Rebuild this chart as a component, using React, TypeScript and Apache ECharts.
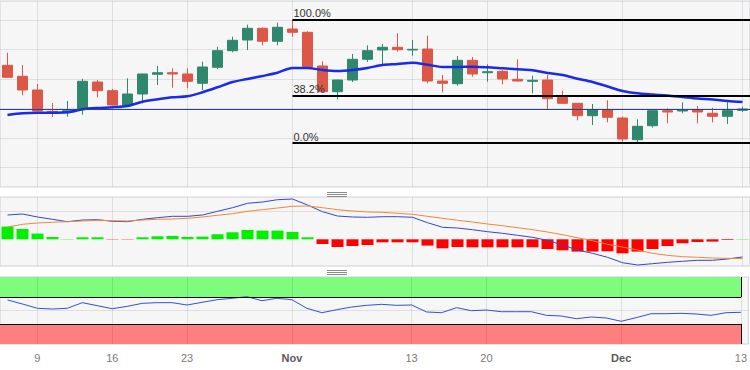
import React, { useEffect, useRef } from "react";
import * as echarts from "echarts";

// ---- Data (trading days) ----
const dates = [
  "2023-10-05","2023-10-06","2023-10-09","2023-10-10","2023-10-11","2023-10-12","2023-10-13",
  "2023-10-16","2023-10-17","2023-10-18","2023-10-19","2023-10-20","2023-10-23","2023-10-24",
  "2023-10-25","2023-10-26","2023-10-27","2023-10-30","2023-10-31","2023-11-01","2023-11-02",
  "2023-11-03","2023-11-06","2023-11-07","2023-11-08","2023-11-09","2023-11-10","2023-11-13",
  "2023-11-14","2023-11-15","2023-11-16","2023-11-17","2023-11-20","2023-11-21","2023-11-22",
  "2023-11-23","2023-11-24","2023-11-27","2023-11-28","2023-11-29","2023-11-30","2023-12-01",
  "2023-12-04","2023-12-05","2023-12-06","2023-12-07","2023-12-08","2023-12-11","2023-12-12",
  "2023-12-13",
];

const open = [121.7,110.7,97,75.7,75.3,77.7,105,96.3,82,93,112.7,114.3,113,103.7,119.7,136.3,147,158.7,145.7,158,154.7,121,95.3,107,127.7,137,139.7,137,138,106,103.3,126.7,114.3,115.7,107.7,105.7,107,89.7,83.7,71.3,77,69,47.3,61.3,76.3,76,77,73.7,70.7,76.7];
const close = [109.7,97,76,74.7,76.3,105.7,96.3,82,93,113,114.3,113,105.7,120,136.3,146.7,158.7,145.7,159.7,154.7,120.3,95.3,107,127.7,136.3,139.7,137.3,137.7,106,103.7,126.7,113,115.3,108,106,106.7,88.3,83.7,71.3,77,69.7,48,60.7,76.3,75,77,75,70.7,76.3,78];
const low = [109.5,91.7,75.5,70,70.3,72.3,89.7,81.5,81,83.7,102,99.3,98.7,97,118,134.7,137,141.7,141.7,150.3,120,95,87.7,105,125,121.7,135.3,131.3,103.7,94.7,101.3,110.3,105.3,102.7,105.5,93.7,77,83.5,66.7,62,64.7,45.5,44.5,59.3,63.7,73.7,63.7,64.7,63,75];
const high = [134.3,122,103,84,86,108.3,107,98,108.7,113.2,121,118.7,118.7,125.3,140.3,150.3,162.3,159.7,164.3,167.5,155.7,125.7,107.3,133,141.7,143,153.7,147,151.3,112,131,130,122.7,117,127.7,111.3,112,96.3,84,83,86.7,70.3,67.7,76.5,78.7,84.7,81,79.3,84.7,80.3];

const movingAverage = [72,73.7,74.3,74.3,74.7,77.7,79,79.7,81,85.3,87.7,89.7,90.7,94.7,99.7,105,108,111,114.3,119,119,117,116,117,119,122,123,124.3,122.3,120,120,120.3,119.7,118.7,117.7,116.7,114,112,108.3,105,100.5,96,93.7,92.5,91.5,90,88.5,87.5,86,85];

const macdLine = [24.3,25.3,22.3,20,17.6,19.3,19.6,18,17.6,20,21.6,23,23,24.3,28,31.6,36,37.3,39.6,40.3,34.3,27.6,23.3,22.3,22,22.6,22.6,22,16.6,12,11.3,9.6,7.6,6,4,2,-1,-5.7,-10.7,-14,-18,-23.4,-25.7,-24.4,-23,-22,-21,-21,-19.7,-17.7];
const signalLine = [12.3,15,16.3,17,17.6,18.3,19,18.6,18.3,19.3,20,20.3,21,22.3,24,25.6,28,29.6,31.3,33,33.3,31.6,29.6,28.3,27.3,27,26,25,23,21,19,17.3,15.3,13.6,11.6,9.6,7.3,4.6,1.6,-1.4,-5,-7.7,-10.7,-14,-16,-17.4,-18,-18.7,-19,-19.4];
const histogram = [12.7,10.3,5.7,2.3,0.3,2,2,-0.3,-0.3,2,3,3.3,2.3,2.7,5,7,9.3,8.7,8.7,7.3,2,-4.7,-7.7,-6.7,-5.7,-3,-3,-3,-6.3,-9,-7.7,-8,-8,-8,-8,-8,-9.7,-11,-12.3,-12.3,-12,-14,-12.3,-9.7,-6.7,-4,-2.7,-2.3,-0.7,0.3];

const rsi = [65.7,59.7,53.3,52.2,53.3,61.7,57.2,52.7,56.2,60.7,61.7,61.7,58.2,62.2,66.1,68.2,70.6,64.6,68.2,66.1,53.3,46.7,51.2,55.2,57.7,59.2,57.7,58.2,47.8,46.7,54.2,49.7,50.7,48.2,48.2,48.2,42.8,41.8,37.8,40.3,38.8,33.9,39.3,45.2,45.2,45.8,44.8,42.8,46.7,47.3];

const tickDates = ["2023-10-09","2023-10-16","2023-10-23","2023-11-01","2023-11-13","2023-11-20","2023-12-01","2023-12-13"];
const tickLabels = ["9","16","23","Nov","13","20","Dec","13"];

const priceGridLevels = [19.5, 49, 78.5, 108, 137.5, 167];
const macdGridLevels = [28.3];
const rsiGridLevels = [50];

const fibStart = "2023-11-01";
const fibHigh = 167.5;
const fibLow = 44;
const fibRatios = [1, 0.382, 0];
const fibLabels = ["100.0%", "38.2%", "0.0%"];

const rsiUpper = 70;
const rsiLower = 30;

// ---- Styles ----
const FONT = "'Liberation Sans', Arial, Helvetica, sans-serif";
const PANEL_BG = "#f6f6f6";
const BORDER = "#cfd0d8";
const GRID_LINE = "rgba(0,0,0,0.09)";
const UP = "#2f876d";
const DOWN = "#dc5746";

export default function App() {
  const ref = useRef<HTMLDivElement>(null);

  useEffect(() => {
    if (!ref.current) return;
    const chart = echarts.init(ref.current, null, { renderer: "svg" });

    const candleData = dates.map((_, i) => [open[i], close[i], low[i], high[i]]);
    const lastDate = dates[dates.length - 1];
    const lastClose = close[close.length - 1];
    const fibRange = fibHigh - fibLow;

    const gridMarkLine = (levels: number[], z: number) => ({
      silent: true,
      symbol: ["none", "none"],
      z,
      label: { show: false },
      emphasis: { disabled: true },
      lineStyle: { color: GRID_LINE, width: 1, type: "solid" },
      data: [
        ...tickDates.map((d) => ({ xAxis: d })),
        ...levels.map((v) => ({ yAxis: v })),
      ],
    });

    const grids = [
      { top: 1, height: 186 },
      { top: 197, height: 69 },
      { top: 277, height: 67 },
    ].map((g) => ({
      ...g,
      left: -1,
      width: 752,
      show: true,
      backgroundColor: PANEL_BG,
      borderColor: BORDER,
      borderWidth: 1,
      containLabel: false,
    }));

    const xAxes = [0, 1, 2].map((k) => ({
      type: "category",
      gridIndex: k,
      data: dates,
      boundaryGap: true,
      axisLine: { show: false },
      axisTick: { show: false },
      splitLine: { show: false },
      axisLabel:
        k === 2
          ? {
              show: true,
              interval: (_i: number, v: string) => tickDates.includes(v),
              formatter: (v: string) => {
                const t = tickLabels[tickDates.indexOf(v)] ?? "";
                return /^[A-Za-z]/.test(t) ? `{m|${t}}` : t;
              },
              color: "#7a7a7a",
              fontSize: 11,
              fontFamily: FONT,
              margin: 8,
              rich: {
                m: { fontWeight: "bold", color: "#5a5a5a", fontSize: 11, fontFamily: FONT },
              },
            }
          : { show: false },
    }));

    const yAxes = [
      { gridIndex: 0, min: 0, max: 186 },
      { gridIndex: 1, min: -26.7, max: 42.3 },
      { gridIndex: 2, min: 0, max: 100 },
    ].map((a) => ({
      type: "value",
      ...a,
      axisLine: { show: false },
      axisTick: { show: false },
      axisLabel: { show: false },
      splitLine: { show: false },
    }));

    const fibItems = fibRatios.map((r, k) => {
      const level = fibLow + r * fibRange;
      return [
        {
          xAxis: fibStart,
          yAxis: level,
          lineStyle: { color: "#000", width: 2, type: "solid" },
          label: {
            show: true,
            position: "insideStartTop",
            formatter: fibLabels[k],
            color: "#333",
            fontSize: 11,
            fontFamily: FONT,
            distance: [1, 1],
          },
        },
        { x: 750, yAxis: level },
      ];
    });

    const option: any = {
      animation: false,
      backgroundColor: "#ffffff",
      grid: grids,
      xAxis: xAxes,
      yAxis: yAxes,
      graphic: [192, 194, 196, 270, 272, 274].map((y) => ({
        type: "line",
        silent: true,
        shape: { x1: 327, y1: y + 0.5, x2: 347, y2: y + 0.5 },
        style: { stroke: "#8a8a8a", lineWidth: 1 },
      })),
      series: [
        // main panel grid lines
        {
          type: "line",
          xAxisIndex: 0,
          yAxisIndex: 0,
          data: [],
          silent: true,
          markLine: gridMarkLine(priceGridLevels, 1),
        },
        {
          type: "candlestick",
          xAxisIndex: 0,
          yAxisIndex: 0,
          data: candleData,
          barWidth: 11,
          clip: false,
          silent: true,
          itemStyle: {
            color: UP,
            color0: DOWN,
            borderColor: UP,
            borderColor0: DOWN,
            borderWidth: 1,
          },
          markLine: {
            silent: true,
            symbol: ["none", "none"],
            z: 4,
            emphasis: { disabled: true },
            data: [
              {
                yAxis: lastClose,
                lineStyle: { color: "#2b4190", width: 1, type: "solid" },
                label: { show: false },
              },
              ...fibItems,
            ],
          },
        },
        {
          type: "line",
          xAxisIndex: 0,
          yAxisIndex: 0,
          data: movingAverage,
          smooth: 0.3,
          symbol: "none",
          silent: true,
          z: 3,
          lineStyle: { color: "#1a2ae6", width: 2.5 },
        },
        // MACD panel
        {
          type: "line",
          xAxisIndex: 1,
          yAxisIndex: 1,
          data: [],
          silent: true,
          markLine: gridMarkLine(macdGridLevels, 1),
        },
        {
          type: "bar",
          xAxisIndex: 1,
          yAxisIndex: 1,
          data: histogram,
          barWidth: 12,
          silent: true,
          itemStyle: {
            color: (p: any) => (p.value >= 0 ? "#00f000" : "#ff0000"),
          },
        },
        {
          type: "line",
          xAxisIndex: 1,
          yAxisIndex: 1,
          data: macdLine,
          symbol: "none",
          silent: true,
          z: 3,
          lineStyle: { color: "#3347cc", width: 1 },
        },
        {
          type: "line",
          xAxisIndex: 1,
          yAxisIndex: 1,
          data: signalLine,
          symbol: "none",
          silent: true,
          z: 3,
          lineStyle: { color: "#f08838", width: 1 },
        },
        // RSI panel
        {
          type: "line",
          xAxisIndex: 2,
          yAxisIndex: 2,
          data: [],
          silent: true,
          markArea: {
            silent: true,
            z: 1,
            label: { show: false },
            emphasis: { disabled: true },
            data: [
              [
                { x: 0, yAxis: rsiUpper, itemStyle: { color: "#7dfc7d" } },
                { xAxis: lastDate, yAxis: 100 },
              ],
              [
                { x: 0, yAxis: 0, itemStyle: { color: "#ff7f7f" } },
                { xAxis: lastDate, yAxis: rsiLower },
              ],
            ],
          },
          markLine: gridMarkLine(rsiGridLevels, 1.5),
        },
        {
          type: "line",
          xAxisIndex: 2,
          yAxisIndex: 2,
          data: rsi,
          symbol: "none",
          silent: true,
          z: 3,
          lineStyle: { color: "#3350d0", width: 1 },
          markLine: {
            silent: true,
            symbol: ["none", "none"],
            z: 4,
            label: { show: false },
            emphasis: { disabled: true },
            lineStyle: { color: "#000", width: 1, type: "solid" },
            data: [
              [{ x: 0, yAxis: rsiUpper }, { xAxis: lastDate, yAxis: rsiUpper }],
              [{ x: 0, yAxis: rsiLower }, { xAxis: lastDate, yAxis: rsiLower }],
              [{ xAxis: lastDate, yAxis: rsiUpper }, { xAxis: lastDate, yAxis: 100 }],
              [{ xAxis: lastDate, yAxis: 0 }, { xAxis: lastDate, yAxis: rsiLower }],
            ],
          },
        },
      ],
    };

    chart.setOption(option);
    return () => {
      chart.dispose();
    };
  }, []);

  return (
    <div
      ref={ref}
      style={{ position: "fixed", left: 0, top: 0, width: 750, height: 370, background: "#fff" }}
    />
  );
}
